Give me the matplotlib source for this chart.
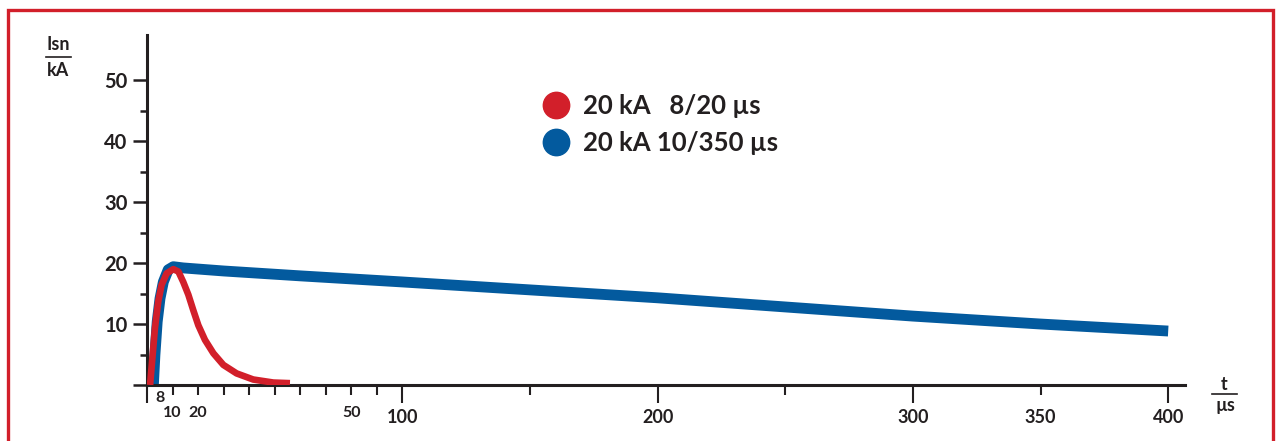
import matplotlib
matplotlib.use('Agg')
import matplotlib.pyplot as plt
from matplotlib.lines import Line2D
from matplotlib.patches import Rectangle

plt.rcParams['font.family'] = ['Lato', 'DejaVu Sans']
plt.rcParams['font.weight'] = 'bold'

# Datos (eje x esquematico, unidades del eje)
red_t = [1.2, 2.2, 3.1, 4.4, 5.7, 7.7, 10.3, 12.3, 14.2, 16.2, 18.1, 20.1, 22.7, 26.0,
         29.9, 35.1, 41.6, 49.5, 56]
red_i = [0.0, 4.9, 9.3, 13.7, 16.4, 18.3, 19.0, 18.6, 16.9, 14.8, 12.3, 9.8, 7.4, 5.2,
         3.3, 1.9, 0.9, 0.4, 0.3]

blue_t = [2.5, 3.1, 4.0, 5.1, 6.4, 8.3, 10.3, 14.2, 30, 60, 100, 150, 200, 250, 300, 350, 400]
blue_i = [0.0, 4.9, 10.4, 14.2, 16.9, 18.9, 19.4, 19.2, 18.7, 17.9, 16.9, 15.6, 14.3, 12.8,
          11.3, 10.0, 8.85]

y_major = [0, 10, 20, 30, 40, 50]
y_labels = ['', '10', '20', '30', '40', '50']
y_minor = [5, 15, 25, 35, 45]

x_major = [0, 100, 200, 300, 400]
x_minor = [10, 20, 30, 40, 50, 60, 70, 80, 90, 150, 250, 350]
# etiquetas del eje x tal como aparecen (posicion, texto)
x_lab_small = [(5, '8'), (10, '10'), (20, '20'), (80, '50')]
x_lab_big = [(100, '100'), (200, '200'), (300, '300'), (350, '350'), (400, '400')]

legend_labels = ['20 kA   8/20 µs', '20 kA 10/350 µs']

RED = '#d21f2a'
BLUE = '#035a9e'
INK = '#231f20'

fig = plt.figure(figsize=(12.8, 4.41), dpi=100)
ax = fig.add_axes([147/1280, 56/441, (1185-147)/1280, (385-35)/441])

ax.plot(blue_t, blue_i, color=BLUE, lw=7.8, solid_capstyle='butt', solid_joinstyle='round', zorder=2)
ax.plot(red_t, red_i, color=RED, lw=4.8, solid_capstyle='butt', solid_joinstyle='round', zorder=3)

ax.set_xlim(0, (1185-147)/2.553)
ax.set_ylim(0, 57.4)

for s in ['top', 'right']:
    ax.spines[s].set_visible(False)
for s in ['left', 'bottom']:
    ax.spines[s].set_linewidth(2.2)
    ax.spines[s].set_color(INK)

ax.set_yticks(y_major)
ax.set_yticklabels(y_labels)
ax.set_yticks(y_minor, minor=True)
ax.tick_params(axis='y', which='major', length=10, width=1.8, color=INK,
               labelsize=14.5, labelcolor=INK, pad=4)
ax.tick_params(axis='y', which='minor', length=5, width=1.8, color=INK)

ax.set_xticks(x_major)
ax.set_xticklabels([])
ax.set_xticks(x_minor, minor=True)
ax.tick_params(axis='x', which='major', length=13, width=1.5, color=INK)
ax.tick_params(axis='x', which='minor', length=7, width=1.5, color=INK)

tr = ax.get_xaxis_transform()
for xv, txt in x_lab_small:
    yoff = -0.037 if txt == '8' else -0.08
    ax.text(xv, yoff, txt, transform=tr, ha='center', va='center',
            fontsize=11.5, color=INK, fontweight='bold')
for xv, txt in x_lab_big:
    ax.text(xv, -0.094, txt, transform=tr, ha='center', va='center',
            fontsize=13, color=INK, fontweight='bold')

# leyenda
handles = [Line2D([], [], ls='', marker='o', ms=19, color=RED),
           Line2D([], [], ls='', marker='o', ms=19, color=BLUE)]
leg = ax.legend(handles, legend_labels, loc='upper left',
                bbox_to_anchor=((530-147)/1038, (385-84)/350),
                frameon=False, fontsize=18.5, handletextpad=0.45,
                labelspacing=0.5, borderaxespad=0, handlelength=1.2)
for t in leg.get_texts():
    t.set_color(INK)
    t.set_fontweight('bold')

# etiquetas de los ejes en forma de fraccion
fig.text(58/1280, 1-45/441, 'Isn', ha='center', va='center', fontsize=13, color=INK, fontweight='bold')
fig.add_artist(Line2D([46/1280, 71/1280], [1-57/441, 1-57/441], color=INK, lw=1.2))
fig.text(58/1280, 1-71/441, 'kA', ha='center', va='center', fontsize=13, color=INK, fontweight='bold')

fig.text(1224/1280, 1-384/441, 't', ha='center', va='center', fontsize=13, color=INK, fontweight='bold')
fig.add_artist(Line2D([1212/1280, 1237/1280], [1-394/441, 1-394/441], color=INK, lw=1.2))
fig.text(1225/1280, 1-405/441, 'µs', ha='center', va='center', fontsize=13, color=INK, fontweight='bold')

# marco rojo
fig.add_artist(Rectangle((8/1280, -0.05), (1273-8)/1280, 1.05-10/441, transform=fig.transFigure,
                         fill=False, ec=RED, lw=2.4))

fig.savefig('out.png', dpi=100)
